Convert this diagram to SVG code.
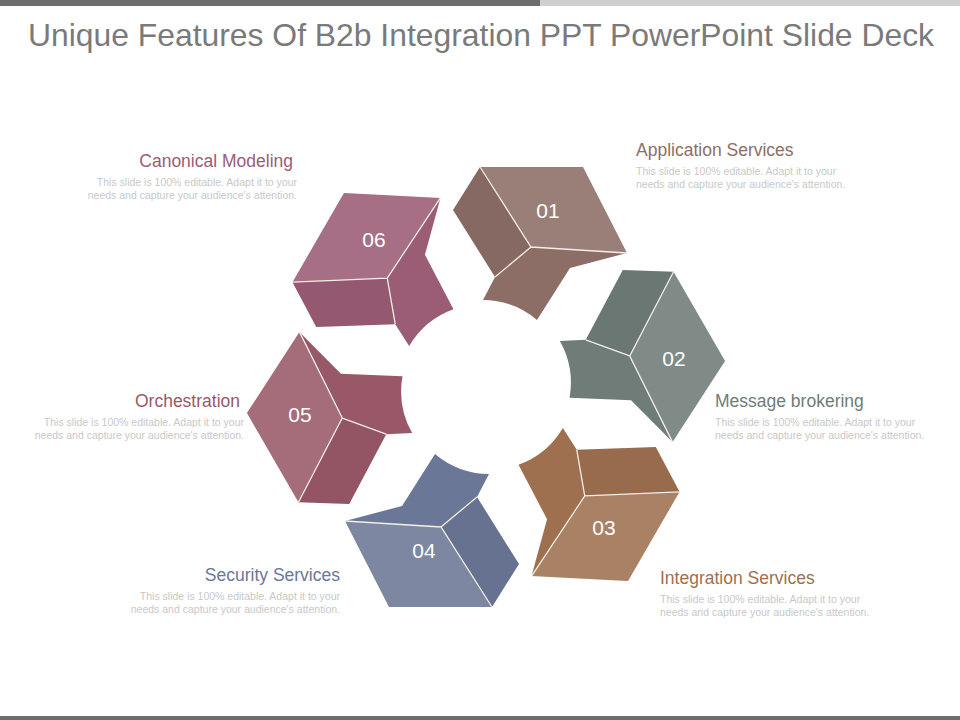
<svg xmlns="http://www.w3.org/2000/svg" width="960" height="720" viewBox="0 0 960 720">
<style>
.t{font-family:"Liberation Sans",Arial,sans-serif}
.h{font-size:17.5px}
.d{font-size:10.5px;fill:#c8c8c8}
.n{font-size:21px;fill:#fff;text-anchor:middle}
.e{fill:none;stroke:#f4eee8;stroke-width:1.3}
</style>
<defs>
<g id="blk">
<path d="M453,210 L480,167 L583,167 L627,253 L570,268 L537,320 A85 85 0 0 0 483,300 L495,277 Z"/>
<path d="M480,167 L583,167 L627,253 L531,247 Z" fill="#fff" opacity="0.12"/>
<path d="M453,210 L480,167 L531,247 L495,277 Z" fill="#000" opacity="0.04"/>
<path d="M480,167 L531,247 L627,253 M531,247 L495,277" class="e"/>
</g>
</defs>
<rect x="0" y="0" width="540" height="6" fill="#6d6d6d"/>
<rect x="540" y="0" width="420" height="6" fill="#cfcfcf"/>
<rect x="0" y="716" width="960" height="4" fill="#6d6d6d"/>
<text x="481" y="46" class="t" font-size="31.5" fill="#7a7a7a" text-anchor="middle" textLength="906" lengthAdjust="spacingAndGlyphs">Unique Features Of B2b Integration PPT PowerPoint Slide Deck</text>
<g id="b1"><use href="#blk" fill="#8c6e67"/><text x="548" y="218" class="t n">01</text></g>
<g id="b2"><use href="#blk" fill="#6f7c77" transform="rotate(60 486 387)"/><text x="674" y="366" class="t n">02</text></g>
<g id="b3"><use href="#blk" fill="#9e704f" transform="rotate(120 486 387)"/><text x="604" y="535" class="t n">03</text></g>
<g id="b4"><use href="#blk" fill="#6b7796" transform="rotate(180 486 387)"/><text x="424" y="558" class="t n">04</text></g>
<g id="b5"><use href="#blk" fill="#995868" transform="rotate(240 486 387)"/><text x="300" y="422" class="t n">05</text></g>
<g id="b6"><use href="#blk" fill="#9b5c75" transform="rotate(300 486 387)"/><text x="374" y="247" class="t n">06</text></g>
<g id="l1" class="t"><text x="636" y="156" class="h" fill="#8c6e67">Application Services</text><text x="636" y="175" class="d">This slide is 100% editable. Adapt it to your</text><text x="636" y="188" class="d">needs and capture your audience's attention.</text></g>
<g id="l2" class="t"><text x="715" y="407" class="h" fill="#6f7c77">Message brokering</text><text x="715" y="426" class="d">This slide is 100% editable. Adapt it to your</text><text x="715" y="439" class="d">needs and capture your audience's attention.</text></g>
<g id="l3" class="t"><text x="660" y="584" class="h" fill="#9e704f">Integration Services</text><text x="660" y="603" class="d">This slide is 100% editable. Adapt it to your</text><text x="660" y="616" class="d">needs and capture your audience's attention.</text></g>
<g id="l4" class="t" text-anchor="end"><text x="340" y="581" class="h" fill="#6b7796">Security Services</text><text x="340" y="600" class="d">This slide is 100% editable. Adapt it to your</text><text x="340" y="613" class="d">needs and capture your audience's attention.</text></g>
<g id="l5" class="t" text-anchor="end"><text x="240" y="407" class="h" fill="#995868">Orchestration</text><text x="244" y="426" class="d">This slide is 100% editable. Adapt it to your</text><text x="244" y="439" class="d">needs and capture your audience's attention.</text></g>
<g id="l6" class="t" text-anchor="end"><text x="293" y="167" class="h" fill="#9b5c75">Canonical Modeling</text><text x="297" y="186" class="d">This slide is 100% editable. Adapt it to your</text><text x="297" y="199" class="d">needs and capture your audience's attention.</text></g>
<g id="connectors"/>
</svg>
